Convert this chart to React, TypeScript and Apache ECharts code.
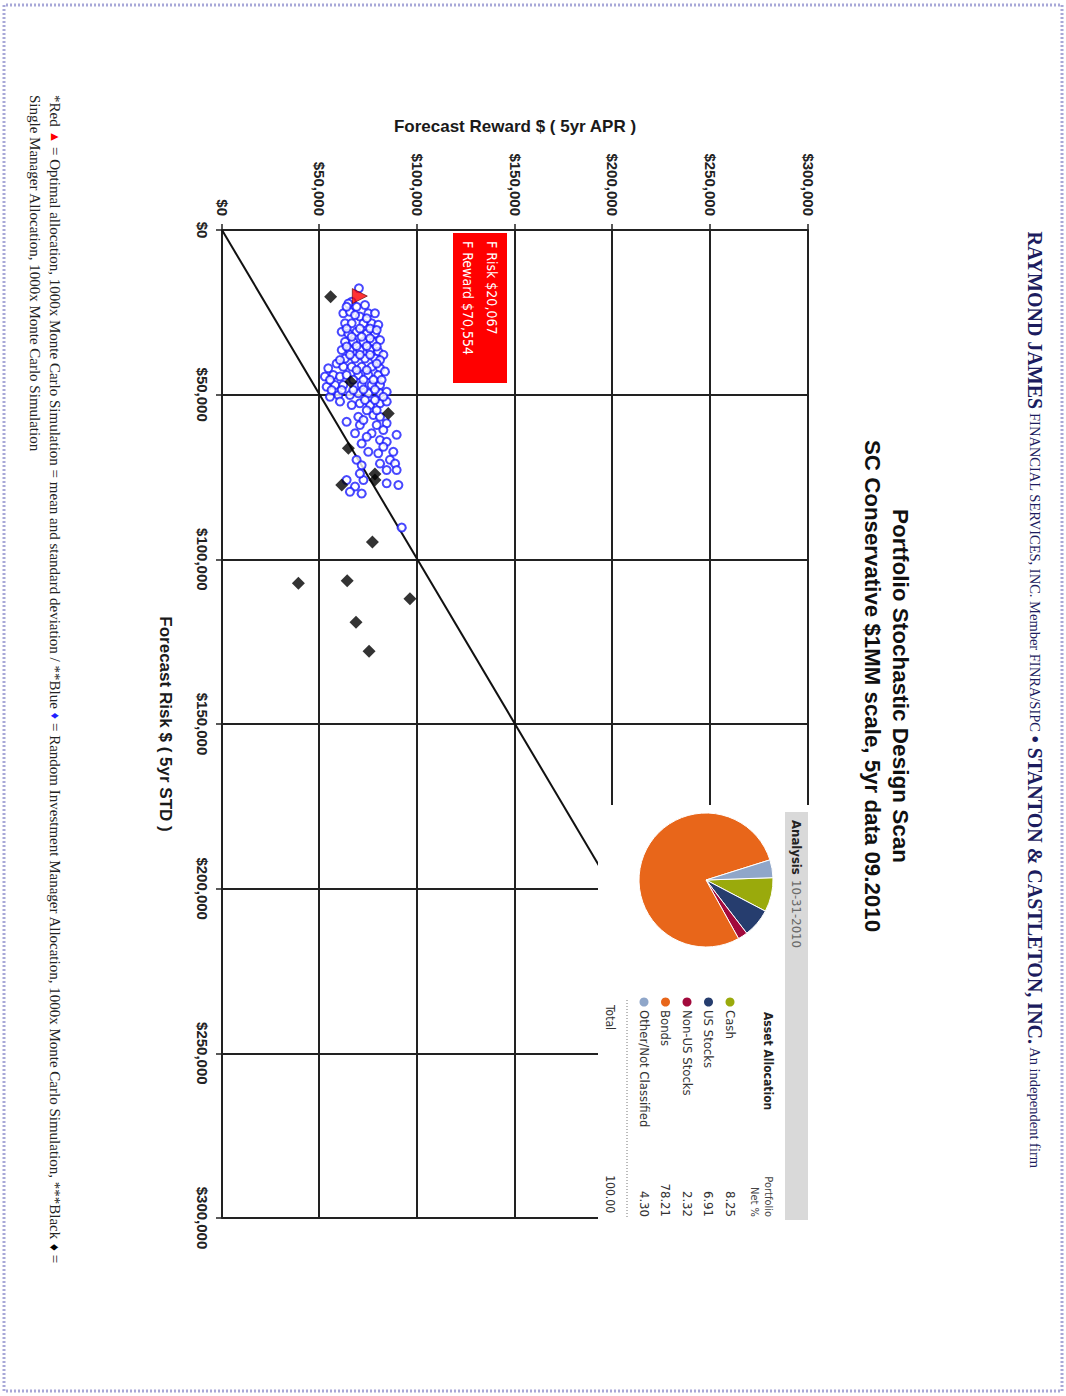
import React, { useEffect, useRef } from "react";
import * as echarts from "echarts";

// ---------- data ----------
const riskTickValues = [0, 50000, 100000, 150000, 200000, 250000, 300000];
const riskTickLabels = ["$0", "$50,000", "$100,000", "$150,000", "$200,000", "$250,000", "$300,000"];
const rewardTickValues = [0, 50000, 100000, 150000, 200000, 250000, 300000];
const rewardTickLabels = ["$0", "$50,000", "$100,000", "$150,000", "$200,000", "$250,000", "$300,000"];

// [risk, reward]
const optimalPoint = [[20067, 70554]];
const optimalLabelLines = ["F Risk $20,067", "F Reward $70,554"];

const frontierLine = [[0, 0], [300000, 300000]];

const singleManager = [
  [20300, 55600], [46100, 65900], [55700, 85100], [66300, 64700], [74100, 78300],
  [75900, 78300], [77400, 61300], [94700, 77000], [107300, 39100], [106500, 64100],
  [112000, 96200], [119100, 68600], [127900, 75300],
];

const randomManager = [
  [17700, 70100], [21800, 66400], [22300, 64700], [25300, 62100], [24800, 65500], [23300, 68900], [22800, 73200], [25300, 74900], [25300, 78300], [26300, 70600],
  [28300, 63000], [28300, 66400], [28300, 72400], [28300, 76600], [28800, 80000], [30900, 61300], [31400, 64700], [30900, 68900], [31400, 74100], [31400, 78300],
  [33900, 63000], [33900, 67200], [33900, 72400], [33900, 77500], [33400, 80900], [36400, 61300], [36400, 65500], [36400, 70600], [36400, 75800], [36900, 80000],
  [39000, 63000], [39000, 68100], [39000, 73200], [39000, 78300], [37900, 82600], [42000, 54400], [40500, 58700], [41500, 62100], [41500, 66400], [41500, 71500],
  [41500, 76600], [42000, 80900], [44500, 52700], [44000, 57000], [44500, 60400], [44000, 63800], [44000, 69800], [44000, 74900], [44000, 80000], [43000, 83400],
  [47600, 53600], [47100, 57900], [47100, 62100], [47100, 71500], [47100, 76600], [47100, 80900], [50600, 55300], [50100, 59600], [50100, 65500], [49600, 69800],
  [49600, 74900], [49600, 80900], [49100, 84300], [53100, 66400], [52600, 70600], [53100, 75800], [52600, 80900], [52100, 84300], [56700, 69800], [56200, 77500],
  [56700, 80900], [58200, 63800], [59200, 70600], [59200, 79200], [58700, 84300], [61700, 68100], [61700, 76600], [63800, 80900], [62200, 89400], [64800, 71500],
  [64300, 84300], [67800, 80000], [67300, 87700], [69800, 68900], [71400, 71500], [69800, 86000], [70900, 88600], [72900, 84300], [75900, 72400], [75900, 63800],
  [77900, 68100], [79500, 65500], [80000, 71500], [76900, 84300], [77400, 90300], [90300, 92000],
  [23300, 63800], [25800, 68100], [26800, 74100], [29900, 63800], [29900, 70600], [29900, 75800], [30400, 79200], [32400, 66400], [32400, 71500], [32900, 75800],
  [35400, 63800], [35200, 68900], [35200, 74100], [35400, 79200], [37900, 65500], [37900, 70600], [37900, 75800], [39500, 80900], [39500, 60400], [42500, 68900],
  [42500, 74100], [40500, 79200], [45500, 55300], [45500, 67200], [45500, 72400], [45500, 77500], [45500, 81700], [48600, 56100], [48600, 61300], [48600, 67200],
  [48400, 72400], [48400, 78300], [52100, 60400], [51600, 73200], [51600, 78300], [50600, 82600], [54700, 74100], [54700, 79200], [57700, 72400], [60700, 82600],
  [62800, 74100], [65800, 82600], [67300, 74900], [70900, 80900], [73900, 70600], [72900, 89400],
];

const allocationNames = ["Cash", "US Stocks", "Non-US Stocks", "Bonds", "Other/Not Classified"];
const allocationValues = [8.25, 6.91, 2.32, 78.21, 4.3];
const allocationLabels = ["8.25", "6.91", "2.32", "78.21", "4.30"];
const allocationColors = ["#9aaa0c", "#263d6e", "#a20a3c", "#e8661a", "#8fa6c9"];
const allocationTotal = "100.00";
const analysisDate = "10-31-2010";

// ---------- fonts ----------
const SANS = '"Liberation Sans", Arial, Helvetica, sans-serif';
const NARROW = '"Liberation Sans Narrow", "Arial Narrow", "DejaVu Sans Condensed", sans-serif';
const SERIF = '"Liberation Serif", "Times New Roman", serif';
const NAVY = "#1c1c5e";

function txt(x: number, y: number, text: string, extra: any = {}, z = 60) {
  const align = extra.align || "left";
  return {
    type: "text",
    x,
    y,
    z,
    silent: true,
    style: {
      text,
      fontFamily: extra.fontFamily || NARROW,
      fontSize: extra.fontSize || 13,
      fontWeight: extra.fontWeight || "normal",
      fill: extra.fill || "#333",
      textAlign: align,
      align,
      textVerticalAlign: "middle",
      verticalAlign: "middle",
      rich: extra.rich,
    },
  };
}

export default function App() {
  const ref = useRef<HTMLDivElement>(null);

  useEffect(() => {
    const chart = echarts.init(ref.current!, null, { renderer: "svg" });

    const rowY0 = 336;
    const rowStep = 21.5;
    const tableGraphics: any[] = [];
    allocationNames.forEach((name, i) => {
      const y = rowY0 + i * rowStep;
      tableGraphics.push({
        type: "circle",
        z: 60,
        silent: true,
        shape: { cx: 1002, cy: y, r: 4.5 },
        style: { fill: allocationColors[i] },
      });
      tableGraphics.push(txt(1010, y, name, { fontSize: 13 }));
      tableGraphics.push(txt(1217, y, allocationLabels[i], { fontSize: 13, align: "right" }));
    });

    const option: any = {
      animation: false,
      backgroundColor: "#ffffff",
      grid: { left: 230, right: 178, top: 258, bottom: 222, containLabel: false },
      xAxis: {
        type: "value",
        min: 0,
        max: 300000,
        interval: 50000,
        name: "Forecast Risk $ ( 5yr STD )",
        nameLocation: "middle",
        nameGap: 48,
        nameTextStyle: { fontFamily: SANS, fontWeight: "bold", fontSize: 17, color: "#1a1a1a" },
        axisLine: { show: true, lineStyle: { color: "#222", width: 2 } },
        axisTick: { show: true, length: 6, lineStyle: { color: "#222", width: 1.5 } },
        axisLabel: {
          formatter: (v: number) => riskTickLabels[riskTickValues.indexOf(v)] ?? "",
          fontFamily: SANS,
          fontWeight: "bold",
          fontSize: 15,
          color: "#222",
          margin: 12,
        },
        splitLine: { show: true, lineStyle: { color: "#222", width: 2 } },
      },
      yAxis: {
        type: "value",
        min: 0,
        max: 300000,
        interval: 50000,
        name: "Forecast Reward $ ( 5yr APR )",
        nameLocation: "middle",
        nameGap: 95,
        nameRotate: 90,
        nameTextStyle: { fontFamily: SANS, fontWeight: "bold", fontSize: 17, color: "#1a1a1a" },
        axisLine: { show: true, lineStyle: { color: "#222", width: 2 } },
        axisTick: { show: true, length: 6, lineStyle: { color: "#222", width: 1.5 } },
        axisLabel: {
          formatter: (v: number) => rewardTickLabels[rewardTickValues.indexOf(v)] ?? "",
          fontFamily: SANS,
          fontWeight: "bold",
          fontSize: 15,
          color: "#222",
          margin: 14,
        },
        splitLine: { show: true, lineStyle: { color: "#222", width: 2 } },
      },
      series: [
        {
          type: "line",
          data: frontierLine,
          symbol: "none",
          silent: true,
          lineStyle: { color: "#111", width: 2 },
          z: 2,
        },
        {
          type: "scatter",
          data: randomManager,
          symbol: "circle",
          symbolSize: 8,
          silent: true,
          itemStyle: { color: "#ffffff", borderColor: "#1a1aff", borderWidth: 2 },
          z: 3,
        },
        {
          type: "scatter",
          data: singleManager,
          symbol: "diamond",
          symbolSize: 13,
          silent: true,
          itemStyle: { color: "#000000" },
          z: 4,
        },
        {
          type: "scatter",
          data: optimalPoint,
          symbol: "triangle",
          symbolSize: 15,
          silent: true,
          itemStyle: { color: "#ff0000", borderColor: "#5a0000", borderWidth: 0.8 },
          z: 5,
        },
        {
          type: "pie",
          center: [880, 360],
          radius: 67,
          startAngle: 92,
          clockwise: true,
          silent: true,
          z: 60,
          label: { show: false },
          labelLine: { show: false },
          itemStyle: { borderColor: "#ffffff", borderWidth: 1 },
          data: allocationNames.map((n, i) => ({
            name: n,
            value: allocationValues[i],
            itemStyle: { color: allocationColors[i] },
          })),
        },
      ],
      graphic: [
        // page border
        {
          type: "rect",
          z: 1,
          silent: true,
          shape: { x: 5, y: 4, width: 1386, height: 1058 },
          style: { fill: "none", stroke: "#a8a8d8", lineWidth: 3, lineDash: [2, 2] },
        },
        // header
        txt(
          700,
          31,
          "{a|RAYMOND JAMES}{b| FINANCIAL SERVICES, INC. Member FINRA/SIPC }{a|•}{a| STANTON & CASTLETON, INC.}{b| An independent firm}",
          {
            align: "center",
            fontFamily: SERIF,
            fill: NAVY,
            rich: {
              a: { fontFamily: SERIF, fontWeight: "bold", fontSize: 20, fill: NAVY },
              b: { fontFamily: SERIF, fontWeight: "normal", fontSize: 14.5, fill: NAVY },
            },
          }
        ),
        // titles
        txt(686, 166, "Portfolio Stochastic Design Scan", {
          align: "center", fontFamily: SANS, fontWeight: "bold", fontSize: 22.5, fill: "#111",
        }),
        txt(686, 194, "SC Conservative $1MM scale, 5yr data 09.2010", {
          align: "center", fontFamily: SANS, fontWeight: "bold", fontSize: 22.3, fill: "#111",
        }),
        // inset background
        {
          type: "rect",
          z: 40,
          silent: true,
          shape: { x: 805, y: 255, width: 420, height: 213 },
          style: { fill: "#ffffff" },
        },
        {
          type: "rect",
          z: 45,
          silent: true,
          shape: { x: 812, y: 258, width: 408, height: 23 },
          style: { fill: "#d9d9d9" },
        },
        txt(820, 270, "Analysis", { fontWeight: "bold", fontSize: 13, fill: "#222" }),
        txt(880, 270, analysisDate, { fontSize: 13, fill: "#6a6a6a" }),
        txt(1012, 298, "Asset Allocation", { fontWeight: "bold", fontSize: 12, fill: "#222" }),
        txt(1217, 298, "Portfolio", { fontSize: 11, align: "right", fill: "#444" }),
        txt(1217, 312, "Net %", { fontSize: 11, align: "right", fill: "#444" }),
        ...tableGraphics,
        {
          type: "line",
          z: 60,
          silent: true,
          shape: { x1: 1000, y1: 439, x2: 1217, y2: 439 },
          style: { stroke: "#777", lineWidth: 1, lineDash: [1, 2] },
        },
        txt(1005, 456, "Total", { fontSize: 12 }),
        txt(1213, 456, allocationTotal, { fontSize: 12, align: "right" }),
        // optimal label box
        {
          type: "rect",
          z: 50,
          silent: true,
          shape: { x: 233, y: 559, width: 150, height: 54 },
          style: { fill: "#ff0000" },
        },
        txt(241, 574, optimalLabelLines[0], { fontSize: 14, fill: "#ffffff" }, 55),
        txt(241, 598, optimalLabelLines[1], { fontSize: 14, fill: "#ffffff" }, 55),
        // footnotes
        txt(
          95,
          1011,
          "{t|*Red }{r|▲}{t| = Optimal allocation, 1000x Monte Carlo Simulation = mean and standard deviation / **Blue }{b|♦}{t| = Random Investment Manager Allocation, 1000x Monte Carlo Simulation, ***Black }{k|♦}{t| =}",
          {
            fontFamily: SERIF,
            fill: "#222",
            rich: {
              t: { fontFamily: SERIF, fontSize: 15, fill: "#222" },
              r: { fontFamily: SANS, fontSize: 13, fill: "#ff0000" },
              b: { fontFamily: SANS, fontSize: 13, fill: "#2020ff" },
              k: { fontFamily: SANS, fontSize: 14, fill: "#000" },
            },
          }
        ),
        txt(95, 1031, "Single Manager Allocation, 1000x Monte Carlo Simulation", {
          fontFamily: SERIF, fontSize: 15, fill: "#222",
        }),
      ],
    };

    chart.setOption(option);
    return () => chart.dispose();
  }, []);

  return (
    <div
      style={{
        position: "absolute",
        left: 0,
        top: 0,
        width: 1066,
        height: 1396,
        overflow: "hidden",
        background: "#ffffff",
      }}
    >
      <div
        ref={ref}
        style={{
          position: "absolute",
          left: 0,
          top: 0,
          width: 1396,
          height: 1066,
          transformOrigin: "0 0",
          transform: "translate(1066px, 0px) rotate(90deg)",
        }}
      />
    </div>
  );
}
